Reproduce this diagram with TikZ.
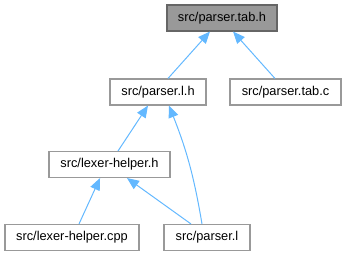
\documentclass[tikz,border=0pt]{standalone}
\usepackage{fontspec}
\setmainfont{Liberation Sans}
\usetikzlibrary{arrows.meta}

\definecolor{edgeblue}{HTML}{63B8FF}
\definecolor{boxgray}{HTML}{999999}
\definecolor{maingray}{HTML}{666666}

\begin{document}
\begin{tikzpicture}[
        x=0.75pt, y=-0.75pt,
        file/.style={rectangle, draw=boxgray, line width=0.8pt, fill=white, minimum height=19.5pt, inner sep=0pt, font=\fontsize{9.6}{11}\selectfont},
        mainfile/.style={file, draw=maingray, fill=boxgray},
        dep/.style={{Triangle[length=9pt, width=7.5pt]}-, draw=edgeblue, line width=0.75pt}
    ]
        \useasboundingbox (0,0) rectangle (347,256);
        % Top: the generated header
        \node[mainfile, minimum width=82.5pt] (tabh) at (222,18) {src/parser.tab.h};
        % Second row
        \node[file, minimum width=72pt] (lexh) at (158,92) {src/parser.l.h};
        \node[file, minimum width=83.25pt] (tabc) at (285.5,92) {src/parser.tab.c};
        % Third row
        \node[file, minimum width=90.75pt] (helperh) at (109.5,164.5) {src/lexer-helper.h};
        % Bottom row
        \node[file, minimum width=100.5pt] (helpercpp) at (72,237.5) {src/lexer-helper.cpp};
        \node[file, minimum width=64.5pt] (lexl) at (207,237.5) {src/parser.l};
        % Includes
        \draw[dep] ([xshift=-9pt]tabh.south) -- ([xshift=7.5pt]lexh.north);
        \draw[dep] ([xshift=8.25pt]tabh.south) -- ([xshift=-7.9pt]tabc.north);
        \draw[dep] ([xshift=-7.5pt]lexh.south) -- ([xshift=6.4pt]helperh.north);
        \draw[dep] ([xshift=8.25pt]lexh.south) to[bend left=6] ([xshift=-3.75pt]lexl.north);
        \draw[dep] ([xshift=-7.1pt]helperh.south) -- ([xshift=5.25pt]helpercpp.north);
        \draw[dep] ([xshift=13.1pt]helperh.south) -- ([xshift=-12pt]lexl.north);
    \end{tikzpicture}
\end{document}
